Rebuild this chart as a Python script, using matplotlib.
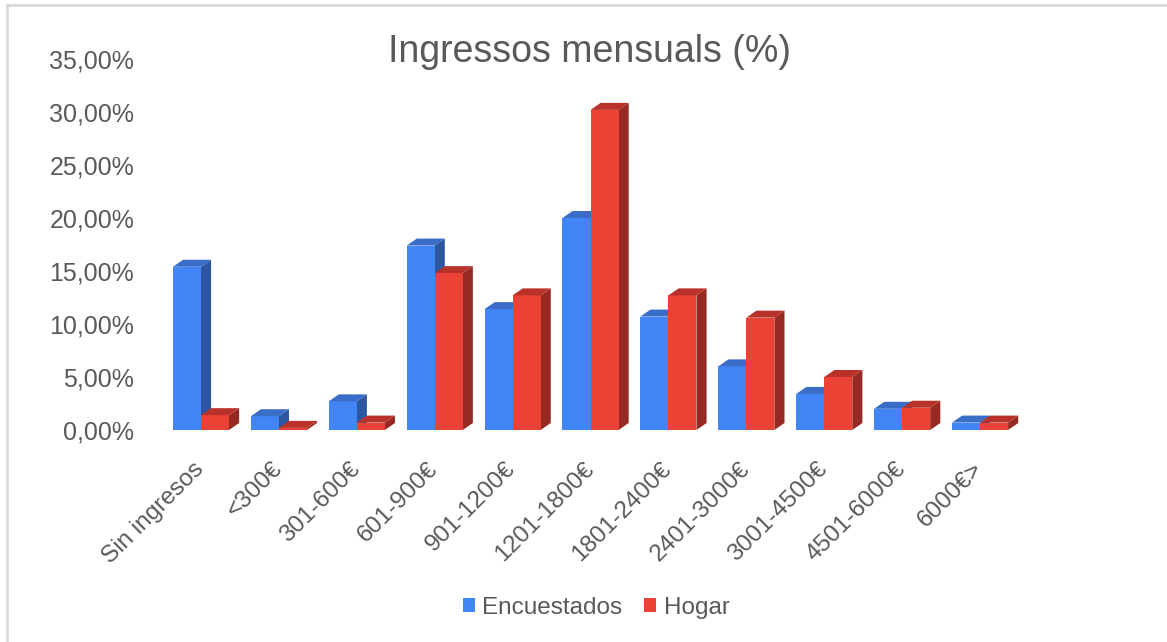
import matplotlib
matplotlib.use("Agg")
import matplotlib.pyplot as plt
import matplotlib.transforms as mtransforms
from matplotlib.patches import Polygon, Patch
from matplotlib.lines import Line2D
import numpy as np

categories = ["Sin ingresos", "<300€", "301-600€", "601-900€", "901-1200€",
              "1201-1800€", "1801-2400€", "2401-3000€", "3001-4500€",
              "4501-6000€", "6000€>"]
encuestados = [15.4, 1.3, 2.7, 17.4, 11.4, 20.0, 10.7, 6.0, 3.4, 2.0, 0.7]
hogar = [1.4, 0.2, 0.7, 14.8, 12.7, 30.2, 12.7, 10.6, 5.0, 2.1, 0.7]
series_names = ["Encuestados", "Hogar"]
yticks = [0, 5, 10, 15, 20, 25, 30, 35]

front_cols = ["#4285F4", "#EA4335"]
top_cols = ["#3A6DC8", "#B8322A"]
side_cols = ["#2C56A0", "#962921"]

plt.rcParams['font.family'] = ['Liberation Sans', 'DejaVu Sans']
W, H = 1167, 642
fig = plt.figure(figsize=(W / 100, H / 100), dpi=100)
ax = fig.add_axes([162 / W, (H - 430) / H, 857 / W, 371 / H])
ax.set_xlim(-0.5, len(categories) - 0.5)
ax.set_ylim(0, 35)

bw = 0.36
dx = 0.13   # depth in x data units
dy = 0.66   # depth in y data units
x = np.arange(len(categories))

for s, vals in enumerate([encuestados, hogar]):
    for i, v in enumerate(vals):
        x0 = x[i] - bw + s * bw
        x1 = x0 + bw
        # front
        ax.add_patch(Polygon([(x0, 0), (x1, 0), (x1, v), (x0, v)], closed=True,
                             facecolor=front_cols[s], edgecolor="none", zorder=2 + s * 3))
        # top
        ax.add_patch(Polygon([(x0, v), (x1, v), (x1 + dx, v + dy), (x0 + dx, v + dy)], closed=True,
                             facecolor=top_cols[s], edgecolor="none", zorder=2 + s * 3))
        # side
        ax.add_patch(Polygon([(x1, 0), (x1 + dx, dy), (x1 + dx, v + dy), (x1, v)], closed=True,
                             facecolor=side_cols[s], edgecolor="none", zorder=1 + s * 3))

for sp in ax.spines.values():
    sp.set_visible(False)
ax.set_yticks(yticks)
ax.set_yticklabels([f"{t:.2f}%".replace(".", ",") for t in yticks])
ax.tick_params(axis="y", length=0, pad=20, labelsize=18, labelcolor="#595959")
ax.set_xticks(x)
ax.set_xticklabels(categories, rotation=45, ha="right", rotation_mode="anchor")
ax.tick_params(axis="x", length=0, pad=20, labelsize=17.5, labelcolor="#595959")
offset = mtransforms.ScaledTranslation(-8 / 100, 0, fig.dpi_scale_trans)
for lab in ax.get_xticklabels():
    lab.set_transform(lab.get_transform() + offset)

fig.text(590 / W, 1 - 52 / H, "Ingressos mensuals (%)", ha="center", va="center",
         fontsize=27, color="#595959")

handles = [Patch(facecolor=front_cols[0]), Patch(facecolor=front_cols[1])]
fig.legend(handles, series_names, loc="center", bbox_to_anchor=(596 / W, 1 - 608 / H),
           ncol=2, frameon=False, fontsize=17.5, labelcolor="#595959",
           handlelength=0.5, handleheight=0.5, handletextpad=0.3, columnspacing=0.9)

# light grey chart frame
fig.add_artist(Line2D([7 / W, 1], [1 - 5 / H, 1 - 5 / H], transform=fig.transFigure,
                      color="#D9D9D9", lw=2))
fig.add_artist(Line2D([7 / W, 7 / W], [0, 1 - 5 / H], transform=fig.transFigure,
                      color="#D9D9D9", lw=2))

fig.savefig("out.png", dpi=100)
